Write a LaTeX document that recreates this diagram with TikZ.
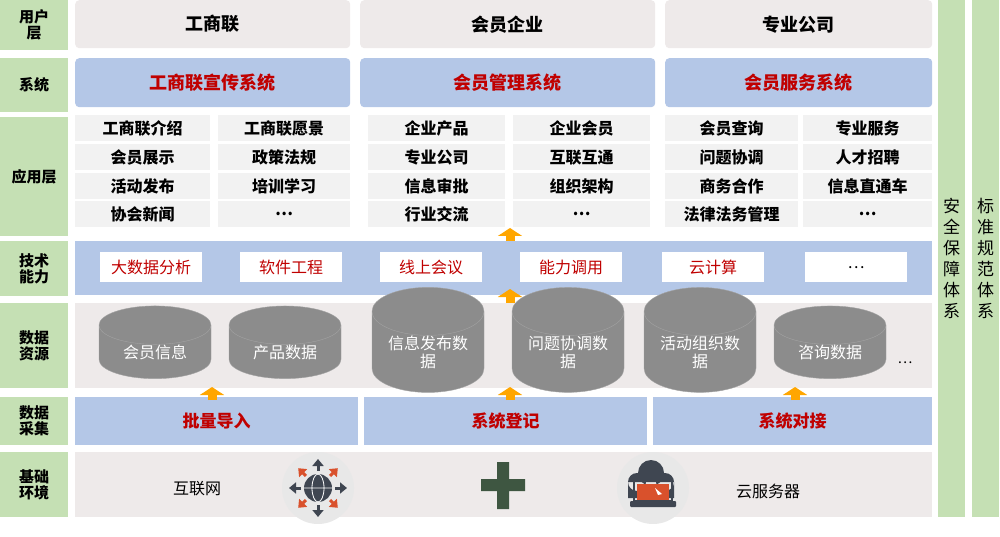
\documentclass[tikz,border=0pt]{standalone}
\usepackage{fontspec}
\setmainfont{Noto Sans CJK SC}
\usetikzlibrary{shapes.geometric,arrows.meta}
\definecolor{layergreen}{HTML}{C5E0B4}
\definecolor{sysblue}{HTML}{B4C7E7}
\definecolor{paleback}{HTML}{EEEAEA}
\definecolor{cellgrey}{HTML}{F2F2F2}
\definecolor{darkred}{HTML}{C00000}
\definecolor{cylgrey}{HTML}{8C8C8C}
\definecolor{icondark}{HTML}{3F4651}
\definecolor{iconred}{HTML}{D9512C}
\definecolor{plusgreen}{HTML}{3E5641}
\tikzset{
  layer/.style={fill=layergreen, inner sep=0pt, align=center, font=\fontsize{15}{16}\selectfont\bfseries},
  userbox/.style={fill=paleback, rounded corners=4pt, font=\fontsize{18}{20}\selectfont\bfseries},
  sysbox/.style={fill=sysblue, rounded corners=4pt, text=darkred, font=\fontsize{18}{20}\selectfont\bfseries},
  cell/.style={fill=cellgrey},
  celltext/.style={font=\fontsize{16}{18}\selectfont\bfseries},
  techbox/.style={fill=white, text=darkred, font=\fontsize{16}{18}\selectfont},
  cyl/.style={cylinder, shape border rotate=90, aspect=0.6, fill=cylgrey, draw=cylgrey!80!white,
    minimum width=112, minimum height=62, text=white, align=center, inner sep=0pt,
    font=\fontsize{16}{18}\selectfont},
  upyellow/.style={-{Triangle[length=8pt,width=24pt]}, line width=9pt, draw=orange!70!yellow}
}
\begin{document}
\begin{tikzpicture}[x=1pt,y=-1pt]
  \useasboundingbox (0,0) rectangle (1000,537);

  % left layer labels
  \foreach \name/\top/\bot/\txt in {luser/0/50/{用户\\层}, lsys/58/112/系统, lapp/117/236/应用层,
      ltech/241/296/{技术\\能力}, ldata/303/388/{数据\\资源}, lcol/397/445/{数据\\采集}, lbase/452/517/{基础\\环境}}
    \node[layer, minimum width=68, minimum height=\bot-\top, anchor=north west] (\name) at (0,\top) {\txt};

  % right columns
  \node[layer, minimum width=27, minimum height=517, anchor=north west, font=\fontsize{17}{21}\selectfont] (safety) at (938,0) {安\\全\\保\\障\\体\\系};
  \node[layer, minimum width=27, minimum height=517, anchor=north west, font=\fontsize{17}{21}\selectfont] (standard) at (972,0) {标\\准\\规\\范\\体\\系};

  % user layer and systems
  \foreach \name/\l/\r/\txt in {ua/75/350/工商联, ub/360/655/会员企业, uc/665/932/专业公司}
    \node[userbox, minimum width=\r-\l, minimum height=48, anchor=north west] (\name) at (\l,0) {\txt};
  \foreach \name/\l/\r/\txt in {sa/75/350/工商联宣传系统, sb/360/655/会员管理系统, sc/665/932/会员服务系统}
    \node[sysbox, minimum width=\r-\l, minimum height=49, anchor=north west] (\name) at (\l,58) {\txt};

  % application cells
  \foreach \l/\w/\col in {75/135/1, 218/132/2, 368/137/3, 513/137/4, 665/133/5, 803/129/6}
    \foreach \t/\row in {115/1, 144/2, 173/3, 201/4}
      \node[cell, minimum width=\w, minimum height=26, anchor=north west] (app\col\row) at (\l,\t) {};
  \foreach \col/\a/\b/\c/\d in {1/工商联介绍/会员展示/活动发布/协会新闻, 2/工商联愿景/政策法规/培训学习/…,
      3/企业产品/专业公司/信息审批/行业交流, 4/企业会员/互联互通/组织架构/…,
      5/会员查询/问题协调/商务合作/法律法务管理, 6/专业服务/人才招聘/信息直通车/…} {
    \node[celltext] at (app\col1) {\a};
    \node[celltext] at (app\col2) {\b};
    \node[celltext] at (app\col3) {\c};
    \node[celltext] at (app\col4) {\d};
  }

  % technology band
  \node[fill=sysblue, minimum width=857, minimum height=54, anchor=north west] (techband) at (75,241) {};
  \foreach \name/\l/\txt in {t1/100/大数据分析, t2/240/软件工程, t3/380/线上会议, t4/520/能力调用, t5/662/云计算}
    \node[techbox, minimum width=102, minimum height=30, anchor=north west] (\name) at (\l,252) {\txt};
  \node[techbox, text=black, minimum width=102, minimum height=30, anchor=north west] (t6) at (805,252) {…};

  % data resources
  \node[fill=paleback, minimum width=857, minimum height=85, anchor=north west] (databand) at (75,303) {};
  \foreach \name/\x/\txt in {d1/155/会员信息, d2/285/产品数据, d3/428/{信息发布数\\据},
      d4/568/{问题协调数\\据}, d5/700/{活动组织数\\据}, d6/830/咨询数据}
    \node[cyl] (\name) at (\x,352) {\txt};
  \node[font=\fontsize{14}{16}\selectfont] (dmore) at (905,363) {…};

  % collection
  \foreach \name/\l/\r/\txt in {c1/75/358/批量导入, c2/364/647/系统登记, c3/653/932/系统对接}
    \node[fill=sysblue, text=darkred, font=\fontsize{17}{19}\selectfont\bfseries, minimum width=\r-\l, minimum height=48, anchor=north west] (\name) at (\l,397) {\txt};

  % base environment
  \node[fill=paleback, minimum width=857, minimum height=65, anchor=north west] (baseband) at (75,452) {};
  \node[font=\fontsize{16}{18}\selectfont] (net) at (197,489) {互联网};
  \node[font=\fontsize{16}{18}\selectfont] (cloudsrv) at (768,491) {云服务器};

  % globe icon
  \fill[black!9] (318,488) circle (36);
  \fill[icondark] (318,488) circle (14);
  \foreach \a in {0,90,180,270}
    \draw[icondark, line width=3pt, -{Triangle[length=7pt,width=11pt]}] (318,488) ++(\a:17) -- ++(\a:12);
  \foreach \a in {45,135,225,315}
    \draw[iconred, line width=3pt, -{Triangle[length=7pt,width=11pt]}] (318,488) ++(\a:17) -- ++(\a:11);
  \draw[white, line width=0.8pt] (318,488) ellipse (6 and 14) (304,488) -- (332,488);

  % plus
  \fill[plusgreen] (497,462) rectangle (509,509) (481,479) rectangle (525,491);

  % cloud laptop icon
  \fill[black!9] (653,488) circle (36);
  \fill[icondark] (651,473) circle (13) (637,482) circle (9) (665,482) circle (9) (628,482) rectangle (674,498);
  \fill[iconred] (637,484) rectangle (669,500);
  \fill[white] (655,488) -- (662,494) -- (658,495) -- cycle;
  \draw[icondark, line width=1.5pt] (634,482) -- (634,501) -- (672,501) -- (672,482);
  \fill[icondark, rounded corners=1pt] (630,501) rectangle (676,507);

  % upward arrows
  \draw[upyellow] (510,241) -- (510,228);
  \draw[upyellow] (510,303) -- (510,289);
  \foreach \x in {212,510,795}
    \draw[upyellow] (\x,400) -- (\x,387);
\end{tikzpicture}
\end{document}
